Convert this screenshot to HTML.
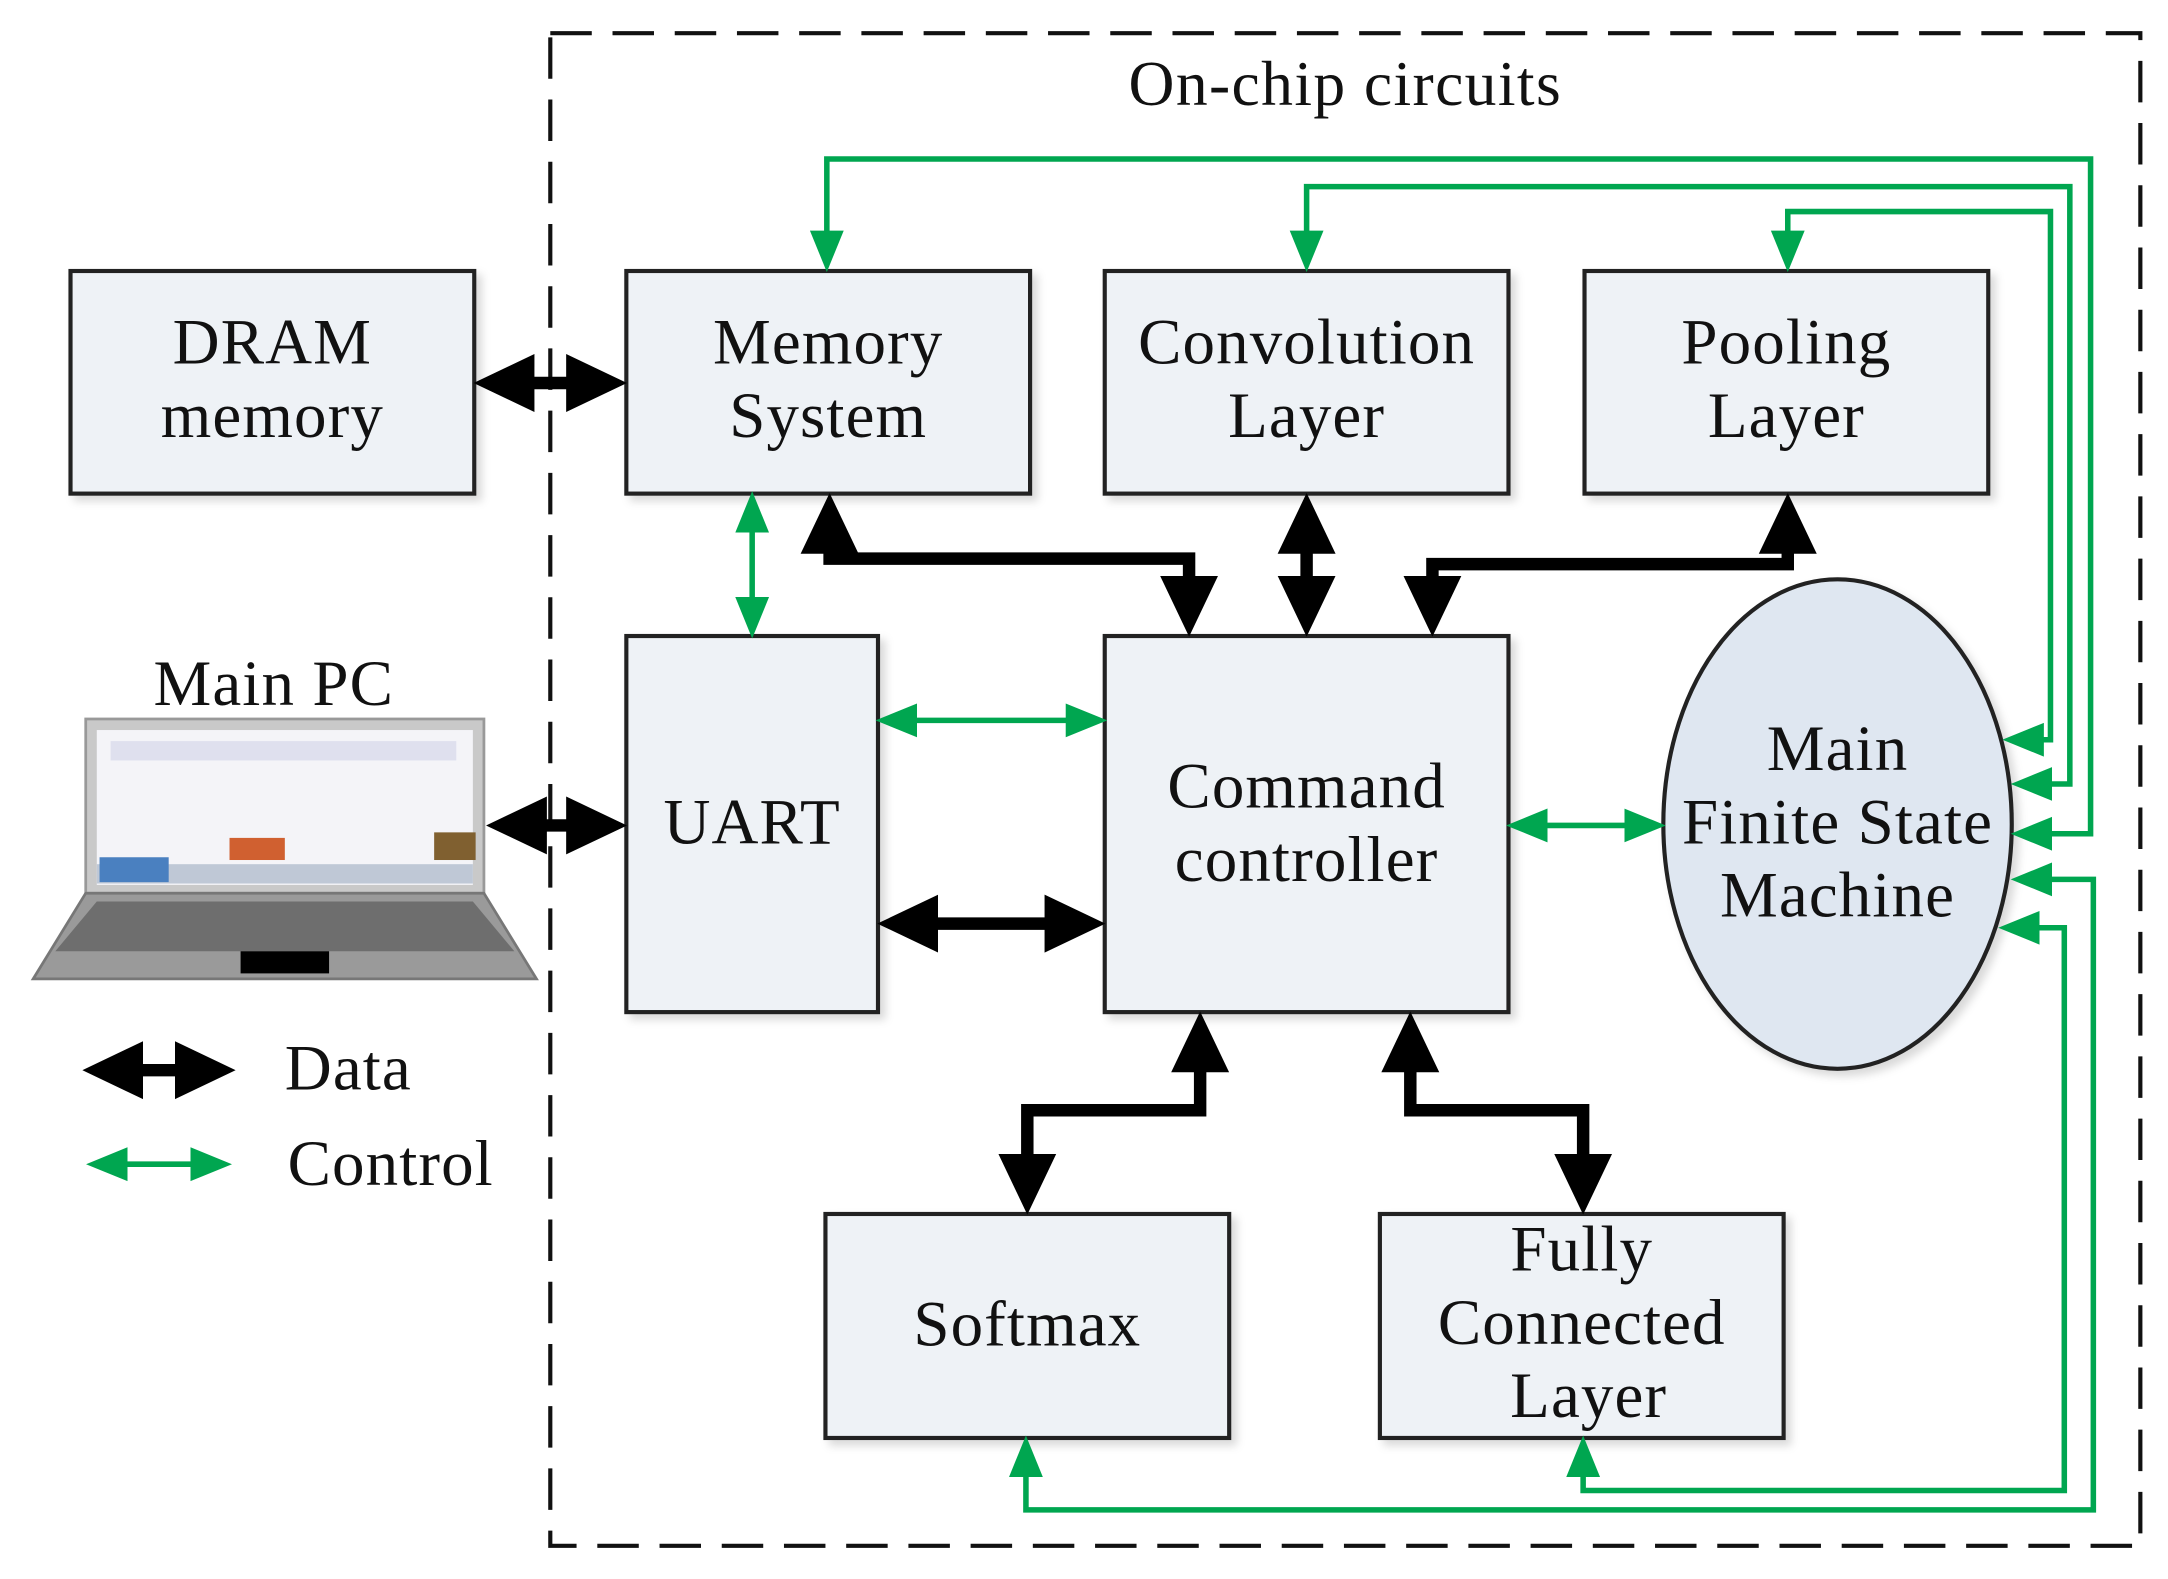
<!DOCTYPE html>
<html><head><meta charset="utf-8"><style>
html,body{margin:0;padding:0;background:#fff;}
svg{display:block;}
text{font-family:"Liberation Serif",serif;fill:#111;}
</style></head><body>
<svg width="2168" height="1579" viewBox="0 0 1568 1142" preserveAspectRatio="none" xmlns="http://www.w3.org/2000/svg">
<defs>
<marker id="bk" markerUnits="userSpaceOnUse" markerWidth="44" markerHeight="44" refX="32" refY="20" orient="auto-start-reverse" viewBox="0 0 42 40">
<path d="M0,0 L42,20 L0,40 z" fill="#000"/></marker>
<marker id="gr" markerUnits="userSpaceOnUse" markerWidth="30" markerHeight="26" refX="20" refY="11" orient="auto-start-reverse" viewBox="0 0 27 22">
<path d="M0,0 L27,11 L0,22 z" fill="#00a650"/></marker>
<filter id="sh" x="-10%" y="-10%" width="130%" height="130%"><feDropShadow dx="4" dy="4" stdDeviation="3" flood-color="#000" flood-opacity="0.15"/></filter>
</defs>
<rect x="398" y="24" width="1150" height="1094" fill="none" stroke="#111" stroke-width="3" stroke-dasharray="30,15"/>
<text x="973" y="76" font-size="46" text-anchor="middle" letter-spacing="1">On-chip circuits</text>

<g fill="#eef2f6" stroke="#222" stroke-width="3" filter="url(#sh)">
<rect x="51" y="196" width="292" height="161"/>
<rect x="453" y="196" width="292" height="161"/>
<rect x="799" y="196" width="292" height="161"/>
<rect x="1146" y="196" width="292" height="161"/>
<rect x="453" y="460" width="182" height="272"/>
<rect x="799" y="460" width="292" height="272"/>
<rect x="597" y="878" width="292" height="162"/>
<rect x="998" y="878" width="292" height="162"/>
<ellipse cx="1329" cy="596" rx="126" ry="177" fill="#dfe7f1"/>
</g>

<g font-size="47" text-anchor="middle" letter-spacing="0.8">
<text x="197" y="263">DRAM</text><text x="197" y="316">memory</text>
<text x="599" y="263">Memory</text><text x="599" y="316">System</text>
<text x="945" y="263">Convolution</text><text x="945" y="316">Layer</text>
<text x="1292" y="263">Pooling</text><text x="1292" y="316">Layer</text>
<text x="544" y="610">UART</text>
<text x="945" y="584">Command</text><text x="945" y="637">controller</text>
<text x="743" y="973">Softmax</text>
<text x="1144" y="919">Fully</text><text x="1144" y="972">Connected</text><text x="1149" y="1025">Layer</text>
<text x="1329" y="557">Main</text><text x="1329" y="610">Finite State</text><text x="1329" y="663">Machine</text>
<text x="198" y="510">Main PC</text>
<text x="206" y="788" text-anchor="start">Data</text>
<text x="208" y="857" text-anchor="start">Control</text>
</g>

<!-- laptop -->
<rect x="62" y="520" width="288" height="126" fill="#c9c9c9" stroke="#999" stroke-width="2"/>
<rect x="70" y="528" width="272" height="112" fill="#f4f4f8"/>
<rect x="80" y="536" width="250" height="14" fill="#dfe0ee"/>
<rect x="70" y="625" width="272" height="14" fill="#bfc8d6"/>
<rect x="72" y="620" width="50" height="18" fill="#4a80c0"/>
<rect x="166" y="606" width="40" height="16" fill="#d06030"/>
<rect x="314" y="602" width="30" height="20" fill="#806030"/>
<path d="M62,646 L350,646 L388,708 L24,708 Z" fill="#9a9a9a" stroke="#777" stroke-width="2"/>
<path d="M70,652 L342,652 L372,688 L40,688 Z" fill="#6e6e6e"/>
<rect x="174" y="688" width="64" height="16" fill="#000"/>

<!-- black data arrows -->
<g fill="none" stroke="#000" stroke-width="9" marker-start="url(#bk)" marker-end="url(#bk)">
<path d="M353,277 L443,277"/>
<path d="M362,597 L443,597"/>
<path d="M645,668 L789,668"/>
<path d="M600,367 L600,404 L860,404 L860,450"/>
<path d="M945,367 L945,450"/>
<path d="M1293,367 L1293,408 L1036,408 L1036,450"/>
<path d="M868,742 L868,803 L743,803 L743,868"/>
<path d="M1020,742 L1020,803 L1145,803 L1145,868"/>
<path d="M70,774 L160,774"/>
</g>

<!-- green control arrows -->
<g fill="none" stroke="#00a650" stroke-width="4">
<path d="M544,363 L544,454" marker-start="url(#gr)" marker-end="url(#gr)"/>
<path d="M641,521 L793,521" marker-start="url(#gr)" marker-end="url(#gr)"/>
<path d="M1097,597 L1197,597" marker-start="url(#gr)" marker-end="url(#gr)"/>
<path d="M70,842 L160,842" marker-start="url(#gr)" marker-end="url(#gr)"/>
<path d="M1462,603 L1512,603 L1512,115 L598,115 L598,189" marker-start="url(#gr)" marker-end="url(#gr)"/>
<path d="M1462,567 L1497,567 L1497,135 L945,135 L945,189" marker-start="url(#gr)" marker-end="url(#gr)"/>
<path d="M1456,535 L1483,535 L1483,153 L1293,153 L1293,189" marker-start="url(#gr)" marker-end="url(#gr)"/>
<path d="M742,1046 L742,1092 L1514,1092 L1514,636 L1462,636" marker-start="url(#gr)" marker-end="url(#gr)"/>
<path d="M1145,1046 L1145,1078 L1493,1078 L1493,671 L1453,671" marker-start="url(#gr)" marker-end="url(#gr)"/>
</g>
</svg>
</body></html>
